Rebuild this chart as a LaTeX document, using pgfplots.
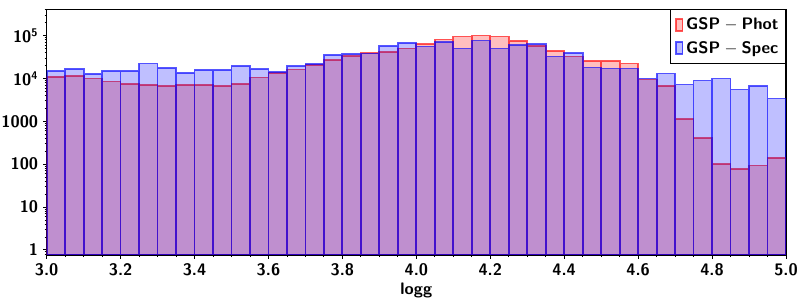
\documentclass[border=0pt]{standalone}
\usepackage{pgfplots}
\pgfplotsset{compat=1.18}
\begin{document}
\begin{tikzpicture}[x=1pt,y=1pt]
\begin{axis}[
  at={(0,0)}, anchor=south west,
  scale only axis,
  width=532.3pt, height=176.9pt,
  ymode=log, log origin y=infty,
  xmin=3, xmax=5, ymin=0.76, ymax=4.1e5,
  ybar, bar width=0.05, bar shift=0pt,
  axis line style={line width=0.8pt},
  tick align=outside, xtick pos=bottom, ytick pos=left,
  major tick length=2.6pt, minor tick length=1.5pt,
  every tick/.style={black, line width=0.6pt},
  xtick={3,3.2,...,5.01},
  minor xtick={3.05,3.1,3.15,3.25,3.3,3.35,3.45,3.5,3.55,3.65,3.7,3.75,3.85,3.9,3.95,4.05,4.1,4.15,4.25,4.3,4.35,4.45,4.5,4.55,4.65,4.7,4.75,4.85,4.9,4.95},
  ytick={1,10,100,1000,10000,100000},
  yticklabels={1,10,100,1000,10\textsuperscript{4},10\textsuperscript{5}},
  minor ytick={0.8,0.9,2,3,4,5,6,7,8,9,20,30,40,50,60,70,80,90,200,300,400,500,600,700,800,900,2000,3000,4000,5000,6000,7000,8000,9000,20000,30000,40000,50000,60000,70000,80000,90000,200000,300000,400000},
  /pgf/number format/assume math mode=true,
  xticklabel style={/pgf/number format/fixed, /pgf/number format/fixed zerofill, /pgf/number format/precision=1},
  tick label style={font=\sffamily\bfseries\fontsize{12}{14}\selectfont},
  xlabel={logg},
  xlabel style={font=\sffamily\bfseries\fontsize{12}{14}\selectfont, yshift=2pt},
  legend style={at={(1,1)}, anchor=north east, draw=black, line width=0.6pt,
    font=\sffamily\bfseries\fontsize{12}{14}\selectfont, row sep=2.5pt, inner xsep=3pt, inner ysep=4pt},
  legend cell align=left,
  legend image code/.code={\draw[#1] (0pt,-4.5pt) rectangle (5pt,4.5pt);},
]
\addplot[draw=red, draw opacity=0.65, line width=1.3pt, fill=red, fill opacity=0.25] coordinates {
(3.025,11000)(3.075,11500)(3.125,9930)(3.175,8450)(3.225,7460)(3.275,7080)(3.325,6700)(3.375,7080)(3.425,7080)(3.475,6700)
(3.525,7460)(3.575,10500)(3.625,13500)(3.675,16100)(3.725,20700)(3.775,27100)(3.825,33600)(3.875,38500)(3.925,41700)(3.975,49700)
(4.025,63000)(4.075,80700)(4.125,94800)(4.175,100000)(4.225,94800)(4.275,75200)(4.325,57500)(4.375,44000)(4.425,32400)(4.475,25700)
(4.525,25700)(4.575,22200)(4.625,9400)(4.675,6700)(4.725,1120)(4.775,404)(4.825,100)(4.875,77.6)(4.925,92.7)(4.975,142)
};
\addlegendentry{GSP\hspace{0.25em}$-$\hspace{0.25em}Phot}
\addplot[draw=blue, draw opacity=0.65, line width=1.3pt, fill=blue, fill opacity=0.25] coordinates {
(3.025,15000)(3.075,16700)(3.125,12800)(3.175,15000)(3.225,15000)(3.275,22200)(3.325,17600)(3.375,13500)(3.425,15800)(3.475,15800)
(3.525,19600)(3.575,16400)(3.625,14200)(3.675,19600)(3.725,21900)(3.775,35500)(3.825,37400)(3.875,38000)(3.925,57500)(3.975,67600)
(4.025,55400)(4.075,70200)(4.125,49700)(4.175,76400)(4.225,49700)(4.275,59700)(4.325,63000)(4.375,32400)(4.425,38900)(4.475,17900)
(4.525,17000)(4.575,17000)(4.625,9930)(4.675,13000)(4.725,7190)(4.775,8910)(4.825,9930)(4.875,5500)(4.925,6700)(4.975,3390)
};
\addlegendentry{GSP\hspace{0.25em}$-$\hspace{0.25em}Spec}
\end{axis}
\pgfresetboundingbox
\path (-33.6pt,-32.4pt) rectangle (542.4pt,183.6pt);
\end{tikzpicture}
\end{document}
